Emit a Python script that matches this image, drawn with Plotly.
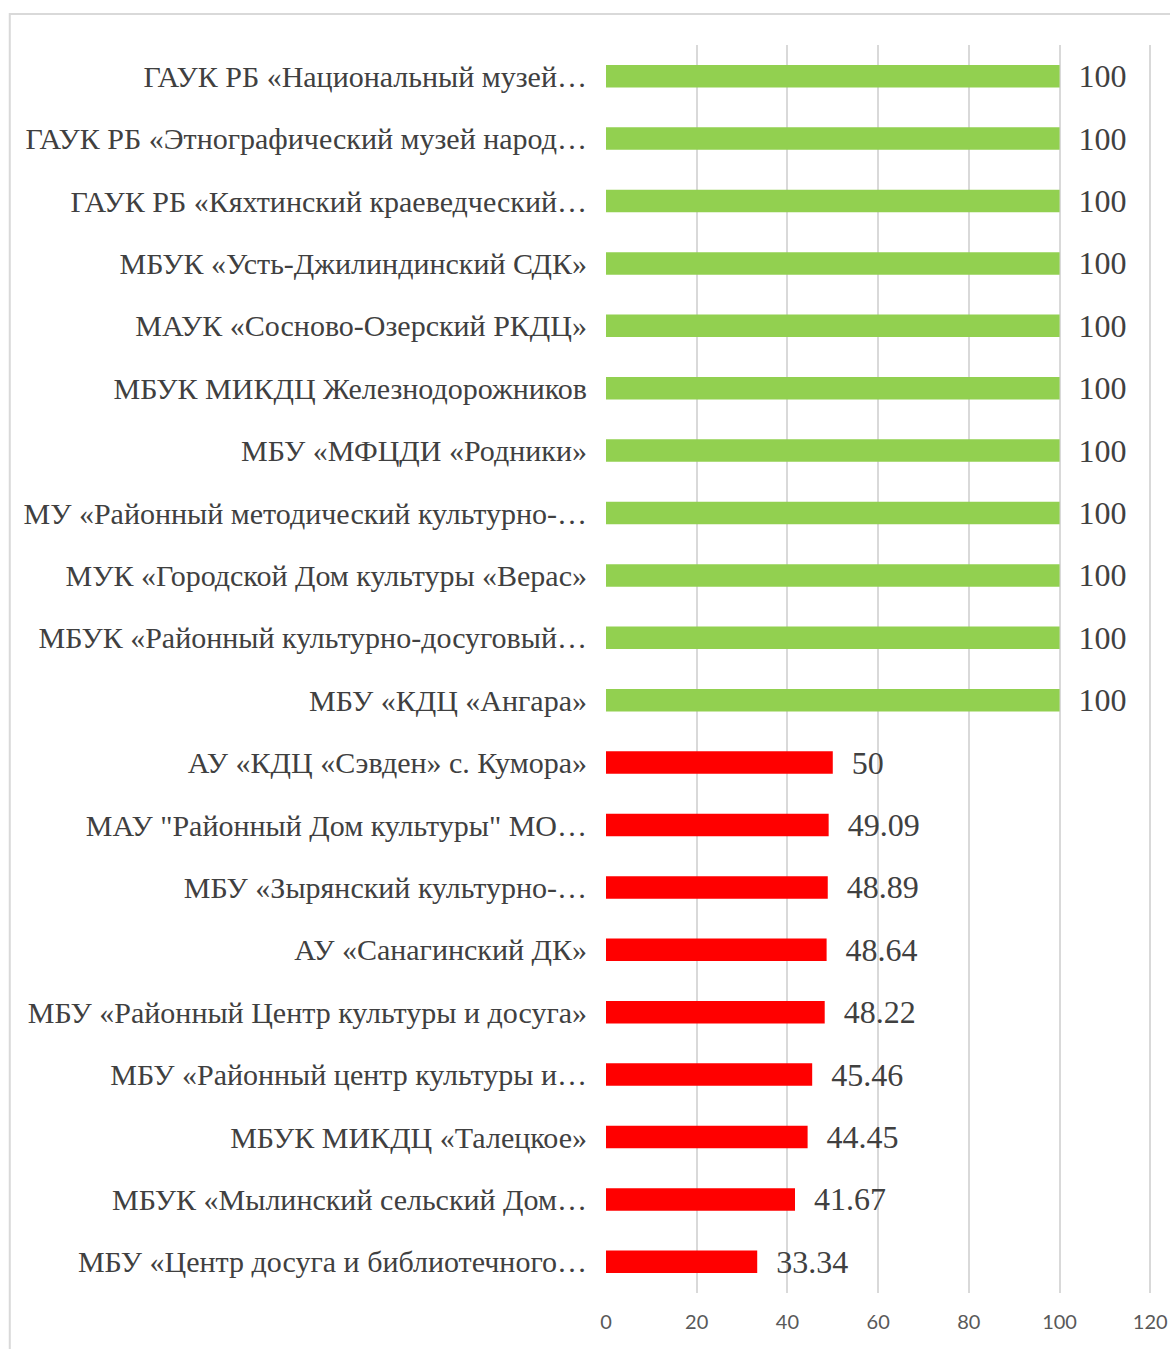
import plotly.graph_objects as go

# organisations, top to bottom as in the chart
organizations = [
    "ГАУК РБ «Национальный музей…",
    "ГАУК РБ «Этнографический музей народ…",
    "ГАУК РБ «Кяхтинский краеведческий…",
    "МБУК «Усть-Джилиндинский СДК»",
    "МАУК «Сосново-Озерский РКДЦ»",
    "МБУК МИКДЦ Железнодорожников",
    "МБУ «МФЦДИ «Родники»",
    "МУ «Районный методический культурно-…",
    "МУК «Городской Дом культуры «Верас»",
    "МБУК «Районный культурно-досуговый…",
    "МБУ «КДЦ «Ангара»",
    "АУ «КДЦ «Сэвден» с. Кумора»",
    "МАУ \"Районный Дом культуры\" МО…",
    "МБУ «Зырянский культурно-…",
    "АУ «Санагинский ДК»",
    "МБУ «Районный Центр культуры и досуга»",
    "МБУ «Районный центр культуры и…",
    "МБУК МИКДЦ «Талецкое»",
    "МБУК «Мылинский сельский Дом…",
    "МБУ «Центр досуга и библиотечного…",
]
scores = [100, 100, 100, 100, 100, 100, 100, 100, 100, 100, 100,
          50, 49.09, 48.89, 48.64, 48.22, 45.46, 44.45, 41.67, 33.34]

x_ticks = [0, 20, 40, 60, 80, 100, 120]

GREEN = "#92D050"
RED = "#FF0000"
bar_colors = [GREEN if s >= 100 else RED for s in scores]

fig = go.Figure()
fig.add_trace(go.Bar(
    x=scores,
    y=organizations,
    orientation="h",
    marker=dict(color=bar_colors, line=dict(width=0)),
    texttemplate="\u00a0\u00a0%{x}",
    textposition="outside",
    constraintext="none",
    cliponaxis=False,
    textfont=dict(family="Liberation Serif", size=32, color="#404040"),
    hoverinfo="skip",
))

fig.update_layout(
    width=1170,
    height=1349,
    margin=dict(l=606, r=17, t=45, b=56, autoexpand=False),
    paper_bgcolor="white",
    plot_bgcolor="white",
    bargap=0.64,
    showlegend=False,
    xaxis=dict(
        # a little headroom so the 120 gridline is not dropped at the edge
        range=[0, 120.6],
        tickvals=x_ticks,
        showgrid=True,
        gridcolor="#d9d9d9",
        gridwidth=1.5,
        zeroline=False,
        showline=False,
        ticks="",
        automargin=False,
        ticklabelstandoff=15,
        tickfont=dict(family="Lato", size=20, color="#595959"),
    ),
    yaxis=dict(
        autorange="reversed",
        showgrid=False,
        zeroline=False,
        showline=False,
        ticks="",
        automargin=False,
        ticklabelstandoff=18,
        tickfont=dict(family="Liberation Serif", size=30, color="#404040"),
    ),
    shapes=[
        # outer chart frame (light gray, left and top visible)
        dict(type="rect", xref="paper", yref="paper",
             x0=-1.09, x1=1.06, y0=-0.07, y1=1.0248,
             line=dict(color="#d9d9d9", width=2), layer="below"),
    ],
)

# drop the default page margin so the figure fills the window exactly
fig.write_html(
    "out.html",
    config={"displayModeBar": False},
    post_script="document.body.style.margin='0';document.body.style.overflow='hidden';",
)
